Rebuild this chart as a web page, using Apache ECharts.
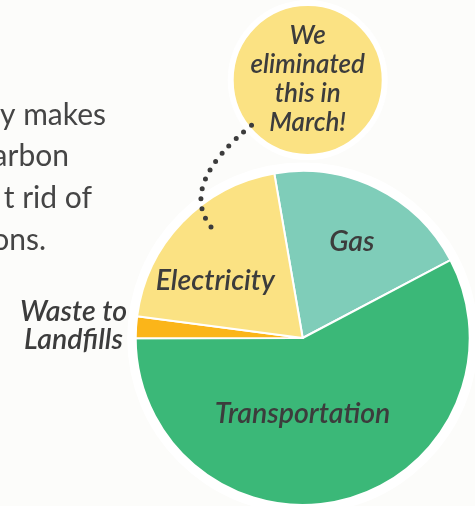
<!DOCTYPE html>
<html>
<head>
<meta charset="utf-8">
<script src="https://cdn.jsdelivr.net/npm/echarts@6/dist/echarts.min.js"></script>
<style>
  html, body { margin: 0; padding: 0; background: #fcfcfa; }
  #chart { width: 475px; height: 506px; }
</style>
</head>
<body>
<div id="chart"></div>
<script>
// slices, clockwise from just left of 12 o'clock
const categories = ["Gas", "Transportation", "Waste to\nLandfills", "Electricity"];
const shares = [20, 57.7, 2.1, 20.2];
const sliceColors = ["#7fcdb9", "#3bb878", "#fbb519", "#fbe283"];
// nudges of the inside labels from their default spot
const labelNudge = [[11, -19], [-21, -8], [0, -1], [-25, 3]];
const introLines = ["y makes", "arbon", "t rid of", "ons."];
const bubbleText = "We\neliminated\nthis in\nMarch!";

const chart = echarts.init(document.getElementById("chart"));
const ink = "#3c3c3c";
const labelFont = { fontFamily: "Lato", fontStyle: "italic", fontWeight: 600, fontSize: 28.5, color: ink };

const pieData = categories.map(function (name, i) {
  const item = { name: name, value: shares[i], itemStyle: { color: sliceColors[i] } };
  if (i === 2) {
    // the thin slice gets its label outside on the left, lines centred on each other
    item.label = {
      position: "outside",
      formatter: function (p) {
        return p.name.split("\n").map(function (s) { return "{w|" + s + "}"; }).join("\n");
      },
      rich: { w: Object.assign({ align: "center", lineHeight: 28 }, labelFont) }
    };
    item.labelLine = { show: false, length: 4, length2: 0 };
  }
  return item;
});

const options = {
  backgroundColor: "#fcfcfa",
  animation: false,
  graphic: [
    // cut-off paragraph on the left
    ...introLines.map(function (t, i) {
      const rightEdge = [106, 69, 92, 46];
      return {
        type: "text",
        style: {
          text: t, x: rightEdge[i], y: 115 + i * 41.7,
          align: "right", verticalAlign: "middle",
          font: "30px Lato", fill: "#454545"
        }
      };
    }),
    {
      type: "circle",
      z: 10,
      shape: { cx: 307.7, cy: 80, r: 77 },
      style: { fill: "#fbe283", stroke: "#ffffff", lineWidth: 6 }
    },
    {
      type: "text",
      z: 11,
      style: {
        text: bubbleText, x: 307.7, y: 79,
        align: "center", verticalAlign: "middle",
        font: "italic 600 26px Lato", lineHeight: 29, fill: ink
      }
    },
    {
      type: "bezierCurve",
      z: 12,
      shape: { x1: 211, y1: 227, x2: 253, y2: 124, cpx1: 178, cpy1: 184.5 },
      style: { stroke: ink, lineWidth: 5, lineDash: [0, 10.2], lineCap: "round", fill: null }
    }
  ],
  series: [
    {
      // white halo behind the pie
      type: "pie",
      silent: true,
      center: [302.7, 338],
      radius: 175.5,
      label: { show: false },
      itemStyle: { color: "#ffffff" },
      data: [1],
      z: 1
    },
    {
      type: "pie",
      center: [302.7, 338],
      radius: 167,
      startAngle: 99.8,
      clockwise: true,
      avoidLabelOverlap: false,
      itemStyle: { borderColor: "#ffffff", borderWidth: 2 },
      label: Object.assign({ show: true, position: "inside", formatter: "{b}" }, labelFont),
      labelLine: { show: false },
      labelLayout: function (p) {
        const n = labelNudge[p.dataIndex];
        return { dx: n[0], dy: n[1] };
      },
      data: pieData,
      z: 2
    }
  ]
};
chart.setOption(options);
</script>
</body>
</html>
